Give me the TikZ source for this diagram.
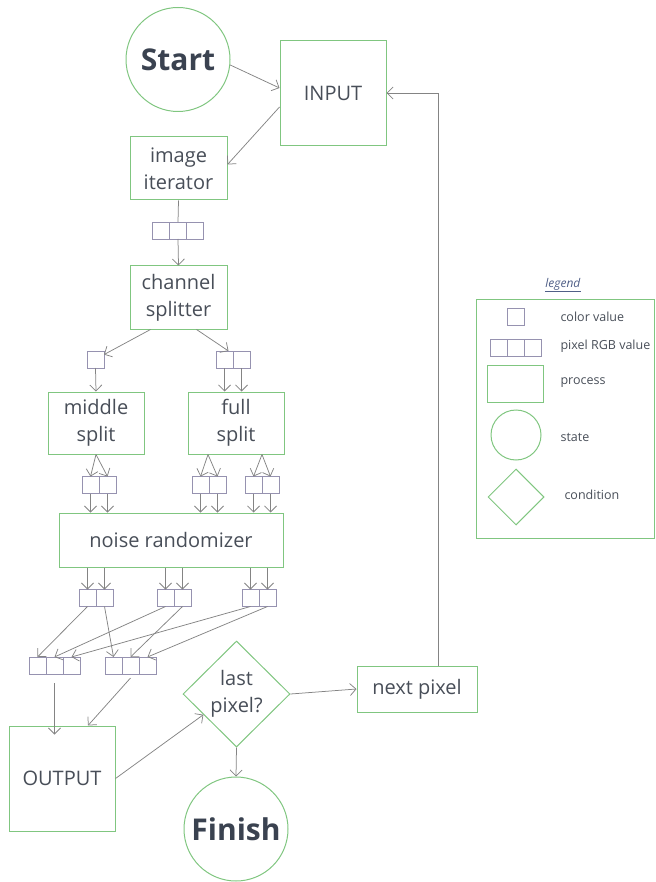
\documentclass[tikz,border=0pt]{standalone}
\usepackage{fontspec}
\setmainfont{Open Sans}
\usepackage{tikz}
\usetikzlibrary{positioning,arrows.meta,calc,shapes.geometric}

\definecolor{boxgreen}{RGB}{128,198,128}
\definecolor{cellgray}{RGB}{150,146,176}
\definecolor{linegray}{RGB}{132,132,132}
\definecolor{textgray}{RGB}{72,78,88}
\definecolor{boldgray}{RGB}{58,66,80}
\definecolor{legendblue}{RGB}{80,95,135}

\begin{document}
\begin{tikzpicture}[x=1pt,y=-1pt,
  font=\fontsize{20}{27}\selectfont, text=textgray,
  process/.style={draw=boxgreen, line width=1pt, align=center, inner sep=0pt},
  state/.style={draw=boxgreen, line width=1pt, circle, minimum size=104pt, inner sep=0pt,
    text=boldgray, font=\fontsize{30}{36}\selectfont\bfseries},
  condition/.style={draw=boxgreen, line width=1pt, diamond, minimum width=107pt,
    minimum height=106pt, inner sep=0pt, align=center},
  cell/.style={draw=cellgray, line width=0.9pt, minimum size=17pt, inner sep=0pt, outer sep=0pt},
  flow/.style={draw=linegray, line width=0.75pt, -{Straight Barb[length=6pt,width=12pt]}},
  link/.style={draw=linegray, line width=0.75pt},
  legtext/.style={font=\fontsize{12.5}{15}\selectfont, anchor=west},
  ]

  \useasboundingbox (0,0) rectangle (655,882);

  % main flow
  \node[state] (start) at (178,59.5) {Start};
  \node[process, minimum width=106pt, minimum height=105pt] (input) at (333,93) {INPUT};
  \node[process, minimum width=97pt, minimum height=63pt] (iter) at (178.5,168.5) {image\\iterator};

  \node[cell] (px1a) at (161,230.5) {};
  \node[cell] (px1b) [right=0pt of px1a] {};
  \node[cell] (px1c) [right=0pt of px1b] {};

  \node[process, minimum width=97pt, minimum height=63pt] (chan) at (178.5,297.5) {channel\\splitter};

  \node[cell] (c1) at (95.5,359.5) {};
  \node[cell] (d1a) at (224.5,359.5) {};
  \node[cell] (d1b) [right=0pt of d1a] {};

  \node[process, minimum width=96pt, minimum height=62pt] (msplit) at (96,423) {middle\\split};
  \node[process, minimum width=96pt, minimum height=62pt] (fsplit) at (236,423) {full\\split};

  \node[cell] (mp1) at (90.5,485) {};
  \node[cell] (mp2) [right=0pt of mp1] {};
  \node[cell] (fa1) at (200.5,485) {};
  \node[cell] (fa2) [right=0pt of fa1] {};
  \node[cell] (fb1) at (253.5,485) {};
  \node[cell] (fb2) [right=0pt of fb1] {};

  \node[process, minimum width=224pt, minimum height=54pt] (noise) at (171,540) {noise randomizer};

  \node[cell] (na1) at (87.5,598) {};
  \node[cell] (nb1) [right=0pt of na1] {};
  \node[cell] (na2) at (165.5,598) {};
  \node[cell] (nb2) [right=0pt of na2] {};
  \node[cell] (na3) at (250.5,598) {};
  \node[cell] (nb3) [right=0pt of na3] {};

  \node[cell] (ol1) at (37.5,665.5) {};
  \node[cell] (ol2) [right=0pt of ol1] {};
  \node[cell] (ol3) [right=0pt of ol2] {};
  \node[cell] (or1) at (113.5,665.5) {};
  \node[cell] (or2) [right=0pt of or1] {};
  \node[cell] (or3) [right=0pt of or2] {};

  \node[process, minimum width=106pt, minimum height=105pt] (output) at (62,778.5) {OUTPUT};
  \node[condition] (last) at (236.5,694) {last\\pixel?};
  \node[process, minimum width=120pt, minimum height=46pt] (next) at (417,689) {next pixel};
  \node[state] (finish) at (236,829) {Finish};

  % connectors
  \draw[flow] (start.-6) -- ([yshift=5pt]input.west);
  \draw[flow] ([yshift=-14pt]input.west) -- ([yshift=4pt]iter.east);
  \draw[link] (iter.south) -- (px1b.north);
  \draw[flow] (px1b.south) -- (chan.north);
  \draw[flow] ([xshift=-28pt]chan.south) -- (c1.30);
  \draw[flow] ([xshift=18pt]chan.south) -- ([xshift=4pt]d1a.north);
  \draw[flow] (c1.south) -- (msplit.north);
  \draw[flow] (d1a.south) -- (d1a.south |- fsplit.north);
  \draw[flow] (d1b.south) -- (d1b.south |- fsplit.north);
  \draw[flow] (msplit.south) -- (mp1.north);
  \draw[flow] (msplit.south) -- (mp2.north);
  \draw[flow] ([xshift=-28pt]fsplit.south) -- (fa1.north);
  \draw[flow] ([xshift=-28pt]fsplit.south) -- (fa2.north);
  \draw[flow] ([xshift=26pt]fsplit.south) -- (fb1.north);
  \draw[flow] ([xshift=26pt]fsplit.south) -- (fb2.north);
  \foreach \c in {mp1,mp2,fa1,fa2,fb1,fb2}
    \draw[flow] (\c.south) -- (\c.south |- noise.north);
  \foreach \i in {1,2,3} {
    \draw[flow] (na\i.north |- noise.south) -- (na\i.north);
    \draw[flow] (nb\i.north |- noise.south) -- (nb\i.north);
    \draw[flow] (na\i.south) -- (ol\i.north);
    \draw[flow] (nb\i.south) -- (or\i.north);
  }
  \draw[flow] ([yshift=-9pt]ol2.south) -- ([yshift=-9pt]ol2.south |- output.north);
  \draw[flow] ([yshift=-4pt]or2.south) -- ([xshift=26pt]output.north);
  \draw[flow] (output.east) -- (last.-148);
  \draw[flow] (last.east) -- (next.west);
  \draw[flow] ([xshift=21pt]next.north) |- (input.east);
  \draw[flow] (last.south) -- (finish.north);

  % legend
  \node[text=legendblue, font=\fontsize{12}{14}\selectfont] (legtitle) at (563,285) {\underline{\textit{legend}}};
  \node[draw=boxgreen, line width=0.8pt, minimum width=178pt, minimum height=239pt] (legframe) at (565,418.5) {};
  \node[cell] (lgc) at (516,316.5) {};
  \node[cell] (lgp2) at (516,347.5) {};
  \node[cell] (lgp1) [left=0pt of lgp2] {};
  \node[cell] (lgp3) [right=0pt of lgp2] {};
  \node[process, minimum width=56pt, minimum height=37pt] (lgproc) at (515,383.5) {};
  \node[state, minimum size=50pt] (lgstate) at (516,435) {};
  \node[condition, minimum width=56pt, minimum height=56pt] (lgcond) at (516,497) {};
  \node[legtext] (lt1) at (557,317) {color value};
  \node[legtext] (lt2) at (557,346) {pixel RGB value};
  \node[legtext] (lt3) at (557,383) {process};
  \node[legtext] (lt4) at (557,437) {state};
  \node[legtext] (lt5) at (561,495) {condition};

\end{tikzpicture}
\end{document}
